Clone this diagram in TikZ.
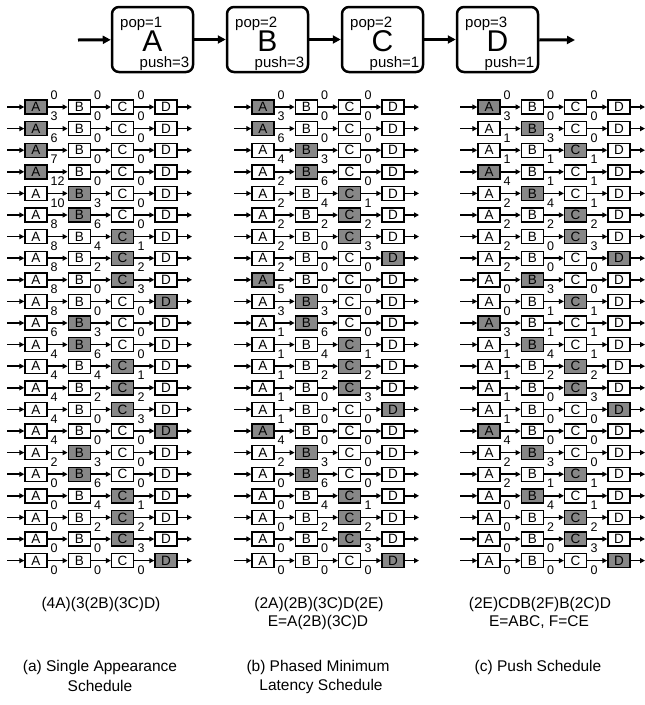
\documentclass[tikz,border=0pt]{standalone}
\usepackage{fontspec}
\setmainfont{Liberation Sans}
\usetikzlibrary{arrows.meta}
\definecolor{cellgray}{RGB}{135,135,135}
\newcommand\schedcol[4]{%
  \foreach \f [count=\r] in {#3}{%
    \pgfmathsetmacro\yy{107+(\r-1)*21.6}
    \coordinate (#1-\r-in) at (#2+7,\yy);
    \coordinate (#1-\r-out) at (#2+192,\yy);
    \foreach \n/\xx in {A/36,B/79.3,C/122.6,D/166}{%
      \edef\tmpa{\f}\edef\tmpb{\n}%
      \ifx\tmpa\tmpb\def\tmpfill{cellgray}\else\def\tmpfill{white}\fi
      \node[cell, fill=\tmpfill] (#1-\r-\n) at (#2+\xx,\yy) {\n};
    }
    \draw[rowarr] (#1-\r-in) -- (#1-\r-A);
    \draw[rowarr] (#1-\r-A) -- (#1-\r-B);
    \draw[rowarr] (#1-\r-B) -- (#1-\r-C);
    \draw[rowarr] (#1-\r-C) -- (#1-\r-D);
    \draw[rowarr] (#1-\r-D) -- (#1-\r-out);
  }
  \foreach \p/\q/\s [count=\k from 0] in {#4}{%
    \pgfmathsetmacro\yy{107+(\k-0.5)*21.6-1.5}
    \node[num] (#1-s\k-1) at (#2+50.5,\yy) {\p};
    \node[num] (#1-s\k-2) at (#2+94,\yy) {\q};
    \node[num] (#1-s\k-3) at (#2+137.3,\yy) {\s};
  }
}
\begin{document}
\begin{tikzpicture}[x=1pt,y=-1pt,
  cell/.style={draw, line width=1.4pt, minimum width=22pt, minimum height=14pt, inner sep=0pt, font=\fontsize{13.5}{13.5}\selectfont},
  num/.style={anchor=west, inner sep=0pt, font=\fontsize{12.5}{12.5}\selectfont},
  rowarr/.style={line width=1.7pt, -{Triangle[length=5pt,width=5pt]}},
  topbox/.style={draw, line width=2.5pt, rounded corners=7pt, minimum width=81pt, minimum height=65pt, inner sep=0pt},
  toparr/.style={line width=3pt, -{Triangle[length=8pt,width=8pt]}},
  lbl/.style={inner sep=0pt, font=\fontsize{15}{15}\selectfont},
  big/.style={inner sep=0pt, font=\fontsize{30}{30}\selectfont},
  captext/.style={inner sep=0pt, font=\fontsize{15.5}{18}\selectfont}
]
\useasboundingbox (0,0) rectangle (645,705);
% top chain
\foreach \n/\cx/\pp/\pu in {A/152.5/1/3, B/267.5/2/3, C/382.5/2/1, D/497.5/3/1}{%
  \node[topbox] (T\n) at (\cx,39.5) {};
  \node[big, anchor=base] (T\n-name) at (\cx,51) {\n};
  \node[lbl, anchor=base west] (T\n-pop) at (\cx-32.5,27) {pop=\pp};
  \node[lbl, anchor=base east] (T\n-push) at (\cx+37,67.5) {push=\pu};
}
\coordinate (Tin) at (78,40);
\coordinate (Tout) at (575,40);
\draw[toparr] (Tin) -- (TA);
\draw[toparr] (TA) -- (TB);
\draw[toparr] (TB) -- (TC);
\draw[toparr] (TC) -- (TD);
\draw[toparr] (TD) -- (Tout);
% columns
\schedcol{a}{0}{A,A,A,A,B,B,C,C,C,D,B,B,C,C,C,D,B,B,C,C,C,D}%
 {0/0/0,3/0/0,6/0/0,7/0/0,12/0/0,10/3/0,8/6/0,8/4/1,8/2/2,8/0/3,8/0/0,6/3/0,4/6/0,4/4/1,4/2/2,4/0/3,4/0/0,2/3/0,0/6/0,0/4/1,0/2/2,0/0/3,0/0/0}
\schedcol{b}{227}{A,A,B,B,C,C,C,D,A,B,B,C,C,C,D,A,B,B,C,C,C,D}%
 {0/0/0,3/0/0,6/0/0,4/3/0,2/6/0,2/4/1,2/2/2,2/0/3,2/0/0,5/0/0,3/3/0,1/6/0,1/4/1,1/2/2,1/0/3,1/0/0,4/0/0,2/3/0,0/6/0,0/4/1,0/2/2,0/0/3,0/0/0}
\schedcol{c}{453}{A,B,C,A,B,C,C,D,B,C,A,B,C,C,D,A,B,C,B,C,C,D}%
 {0/0/0,3/0/0,1/3/0,1/1/1,4/1/1,2/4/1,2/2/2,2/0/3,2/0/0,0/3/0,0/1/1,3/1/1,1/4/1,1/2/2,1/0/3,1/0/0,4/0/0,2/3/0,2/1/1,0/4/1,0/2/2,0/0/3,0/0/0}
% formulas
\node[captext] (fa1) at (101,604) {(4A)(3(2B)(3C)D)};
\node[captext] (fb1) at (319,604) {(2A)(2B)(3C)D(2E)};
\node[captext] (fb2) at (318,622) {E=A(2B)(3C)D};
\node[captext] (fc1) at (540,604) {(2E)CDB(2F)B(2C)D};
\node[captext] (fc2) at (539,622) {E=ABC, F=CE};
% captions
\node[captext] (ca1) at (100,667) {(a) Single Appearance};
\node[captext] (ca2) at (100,686) {Schedule};
\node[captext] (cb1) at (318,667) {(b) Phased Minimum};
\node[captext] (cb2) at (321,686) {Latency Schedule};
\node[captext] (cc1) at (538,667) {(c) Push Schedule};
\end{tikzpicture}
\end{document}
